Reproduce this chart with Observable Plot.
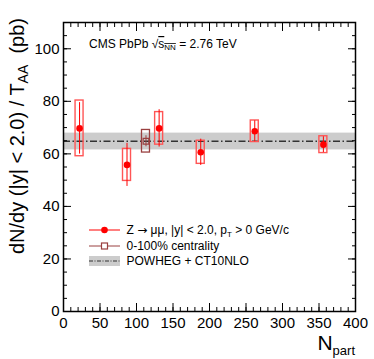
<!DOCTYPE html>
<html><head><meta charset="utf-8">
<script src="https://cdn.jsdelivr.net/npm/d3@7"></script>
<script src="https://cdn.jsdelivr.net/npm/@observablehq/plot@0.6"></script>
<style>
body{margin:0;background:#fff}
svg{font-family:"Liberation Sans",Arial,Helvetica,sans-serif}
</style>
</head><body><div id="chart"></div>
<script>
// Centrality bins (Npart) and yields dN/dy / T_AA (pb)
const npart = [22, 87, 131, 188, 262, 356];
const yieldVals = [69.7, 55.8, 69.7, 60.6, 68.6, 63.5];
const statErr = [9.8, 8.2, 7.1, 5.0, 4.0, 3.0];
const systErr = [10.6, 6.1, 6.2, 4.4, 4.1, 3.2];
// 0-100% centrality
const mbNpart = [113];
const mbYield = [64.8];
const mbStat = [2.1];
const mbSyst = [4.3];
// POWHEG + CT10NLO
const theoryCenter = [64.8];
const theoryLow = [61.5];
const theoryHigh = [67.9];
// axis ticks
const xMajor = [0, 50, 100, 150, 200, 250, 300, 350, 400];
const xMinor = [0,10,20,30,40,50,60,70,80,90,100,110,120,130,140,150,160,170,180,190,200,210,220,230,240,250,260,270,280,290,300,310,320,330,340,350,360,370,380,390,400];
const yMajor = [0, 20, 40, 60, 80, 100];
const yMinor = [0,5,10,15,20,25,30,35,40,45,50,55,60,65,70,75,80,85,90,95,100,105,110];
// texts
const legendLabels = ["Z \u2192 \u03bc\u03bc, |y| < 2.0, p", "0-100% centrality", "POWHEG + CT10NLO"];

const points = npart.map((n, i) => ({n, y: yieldVals[i], stat: statErr[i], syst: systErr[i]}));
const mb = mbNpart.map((n, i) => ({n, y: mbYield[i], stat: mbStat[i], syst: mbSyst[i]}));
const band = theoryCenter.map((c, i) => ({c, lo: theoryLow[i], hi: theoryHigh[i]}));

const RED = "#ff0000";
const MB = "#9a4040";
const noText = () => "";

const chart = Plot.plot({
  width: 374,
  height: 359,
  marginLeft: 63,
  marginRight: 19,
  marginTop: 22,
  marginBottom: 48,
  style: {fontFamily: '"Liberation Sans", Arial, sans-serif', color: "#000", background: "#fff"},
  x: {domain: [0, 400]},
  y: {domain: [0, 110]},
  marks: [
    // theory band and line
    Plot.rect(band, {y1: "lo", y2: "hi", fill: "#cccccc"}),
    Plot.ruleY(band, {y: "c", stroke: "#333", strokeWidth: 1.5, strokeDasharray: "7,2.5,1.5,2.5"}),
    // systematic boxes
    Plot.rect(points, {x1: "n", x2: "n", y1: d => d.y - d.syst, y2: d => d.y + d.syst,
      insetLeft: -4, insetRight: -4, fill: "none", stroke: "#ff5555", strokeWidth: 1.4}),
    Plot.rect(mb, {x1: "n", x2: "n", y1: d => d.y - d.syst, y2: d => d.y + d.syst,
      insetLeft: -4, insetRight: -4, fill: "none", stroke: MB, strokeWidth: 1.3}),
    // stat errors
    Plot.ruleX(points, {x: "n", y1: d => d.y - d.stat, y2: d => d.y + d.stat, stroke: RED, strokeWidth: 1}),
    Plot.ruleX(mb, {x: "n", y1: d => d.y - d.stat, y2: d => d.y + d.stat, stroke: MB, strokeWidth: 1}),
    // markers
    Plot.dot(points, {x: "n", y: "y", r: 3.3, fill: RED, stroke: null}),
    Plot.dot(mb, {x: "n", y: "y", r: 3.2, symbol: "square", fill: "none", stroke: MB, strokeWidth: 1.2}),
    // axes: ticks inside on all four sides
    Plot.axisX(xMajor, {anchor: "bottom", tickSize: -8, tickPadding: 13.5, fontSize: 15, label: null, tickFormat: d => d}),
    Plot.axisX(xMinor, {anchor: "bottom", tickSize: -4, tickFormat: noText, label: null}),
    Plot.axisX(xMajor, {anchor: "top", tickSize: -8, tickFormat: noText, label: null}),
    Plot.axisX(xMinor, {anchor: "top", tickSize: -4, tickFormat: noText, label: null}),
    Plot.axisY(yMajor, {anchor: "left", tickSize: -8, tickPadding: 12, fontSize: 15, label: null, tickFormat: d => d}),
    Plot.axisY(yMinor, {anchor: "left", tickSize: -4, tickFormat: noText, label: null}),
    Plot.axisY(yMajor, {anchor: "right", tickSize: -8, tickFormat: noText, label: null}),
    Plot.axisY(yMinor, {anchor: "right", tickSize: -4, tickFormat: noText, label: null}),
    Plot.frame({stroke: "#000", strokeWidth: 1.5}),
    // titles, header text and legend
    (index, scales, values, dims) => {
      const g = d3.create("svg:g").attr("fill", "#000").attr("text-anchor", "start");
      // y title
      const yt = g.append("text").attr("transform", `translate(24,18) rotate(-90)`)
        .attr("text-anchor", "end").attr("font-size", 20).attr("xml:space", "preserve");
      yt.append("tspan").text("dN/dy (|y| < 2.0) / T");
      yt.append("tspan").attr("font-size", 14).attr("dy", 4).text("AA");
      yt.append("tspan").attr("dy", -4).text("  (pb)");
      // x title
      const xt = g.append("text").attr("x", dims.width - dims.marginRight).attr("y", 350)
        .attr("text-anchor", "end");
      xt.append("tspan").attr("font-size", 21).text("N");
      xt.append("tspan").attr("font-size", 13).attr("dy", 5).text("part");
      // header
      const h = g.append("text").attr("x", 89).attr("y", 48).attr("font-size", 12).attr("text-anchor", "start");
      h.append("tspan").text("CMS PbPb \u221a");
      h.append("tspan").text("s").attr("text-decoration", "overline");
      h.append("tspan").attr("font-size", 8).attr("dy", 2).text("NN").attr("text-decoration", "overline");
      h.append("tspan").attr("dy", -2).text(" = 2.76 TeV");
      // legend
      const lx1 = 89, lx2 = 120, lxc = 104.5, tx = 126.5;
      const rows = [230, 246, 261];
      // row 1
      g.append("line").attr("x1", lx1).attr("x2", lx2).attr("y1", rows[0]).attr("y2", rows[0]).attr("stroke", RED);
      g.append("circle").attr("cx", lxc).attr("cy", rows[0]).attr("r", 3.3).attr("fill", RED);
      const t1 = g.append("text").attr("x", tx).attr("y", rows[0] + 4.3).attr("font-size", 12)
        .attr("text-anchor", "start").attr("xml:space", "preserve");
      const parts = legendLabels[0].split("\u2192");
      t1.append("tspan").text(parts[0]);
      t1.append("tspan").attr("font-family", '"DejaVu Sans", sans-serif').attr("font-size", 12).text("\u2192");
      t1.append("tspan").text(parts[1]);
      t1.append("tspan").attr("font-size", 8).attr("dy", 3).text("T");
      t1.append("tspan").attr("dy", -3).text(" > 0 GeV/c");
      // row 2
      g.append("line").attr("x1", lx1).attr("x2", lx2).attr("y1", rows[1]).attr("y2", rows[1]).attr("stroke", MB);
      g.append("rect").attr("x", lxc - 3).attr("y", rows[1] - 3).attr("width", 6).attr("height", 6)
        .attr("fill", "#fff").attr("stroke", MB).attr("stroke-width", 1.2);
      g.append("text").attr("x", tx).attr("y", rows[1] + 4.3).attr("font-size", 12).attr("text-anchor", "start").text(legendLabels[1]);
      // row 3
      g.append("rect").attr("x", lx1).attr("y", rows[2] - 5).attr("width", lx2 - lx1).attr("height", 10).attr("fill", "#cccccc");
      g.append("line").attr("x1", lx1).attr("x2", lx2).attr("y1", rows[2]).attr("y2", rows[2])
        .attr("stroke", "#333").attr("stroke-width", 1.2).attr("stroke-dasharray", "4,1.5,1,1.5");
      g.append("text").attr("x", tx).attr("y", rows[2] + 4.3).attr("font-size", 12).attr("text-anchor", "start").text(legendLabels[2]);
      return g.node();
    }
  ]
});
document.getElementById("chart").appendChild(chart);
</script>
</body></html>
